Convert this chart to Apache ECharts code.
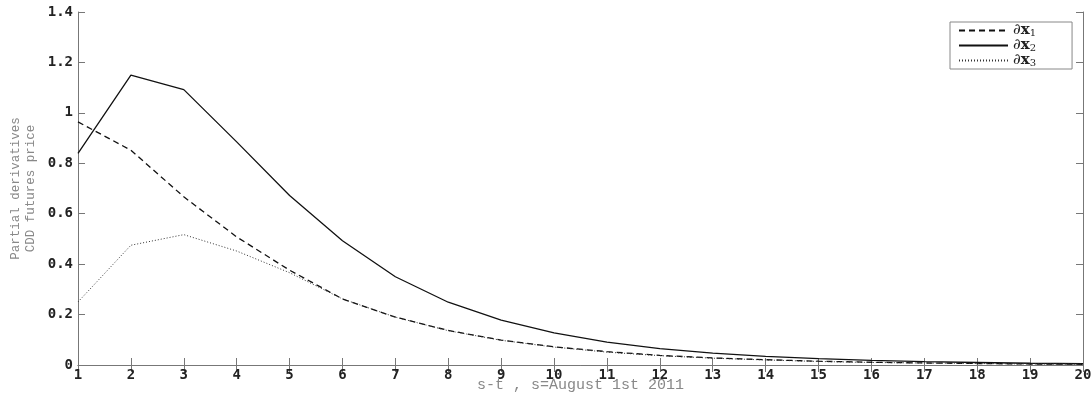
<!DOCTYPE html>
<html>
<head>
<meta charset="utf-8">
<script src="https://cdn.jsdelivr.net/npm/echarts@6/dist/echarts.min.js"></script>
<style>
html,body{margin:0;padding:0;background:#fff;}
#chart{width:1092px;height:396px;}
</style>
</head>
<body>
<div id="chart"></div>
<script>
const steps = [1,2,3,4,5,6,7,8,9,10,11,12,13,14,15,16,17,18,19,20];
const dx1 = [0.964,0.852,0.667,0.508,0.376,0.262,0.19,0.137,0.099,0.072,0.053,0.038,0.028,0.021,0.015,0.011,0.008,0.006,0.004,0.003];
const dx2 = [0.839,1.150,1.092,0.885,0.672,0.493,0.350,0.249,0.178,0.127,0.091,0.065,0.047,0.034,0.025,0.018,0.013,0.010,0.007,0.005];
const dx3 = [0.250,0.475,0.517,0.452,0.366,0.262,0.19,0.136,0.098,0.071,0.051,0.037,0.027,0.020,0.014,0.010,0.008,0.006,0.004,0.003];
const seriesNames = ['∂x1','∂x2','∂x3'];
const yTitle = 'Partial derivatives\nCDD futures price';
const xTitle = 's-t , s=August 1st 2011';

const axisColor = '#777';
const tickFont = {fontFamily:'DejaVu Sans Mono', fontWeight:'bold', fontSize:14, color:'#222'};

function pairs(vals){ return steps.map((s,i)=>[s, vals[i]]); }

const chart = echarts.init(document.getElementById('chart'), null, {renderer:'canvas'});
chart.setOption({
  animation:false,
  backgroundColor:'#fff',
  grid:{left:78, right:9, top:12, bottom:31, containLabel:false, outerBoundsMode:'none'},
  xAxis:[{
    type:'value', min:1, max:20, interval:1,
    axisLine:{show:true, lineStyle:{color:axisColor, width:1}},
    axisTick:{show:true, inside:true, length:7, lineStyle:{color:axisColor}},
    axisLabel:Object.assign({margin:3}, tickFont),
    splitLine:{show:false},
    name:xTitle, nameLocation:'middle', nameGap:13, nameMoveOverlap:false,
    nameTextStyle:{fontFamily:'Liberation Mono', fontSize:15, color:'#888'}
  },{
    type:'value', min:1, max:20, interval:1, position:'top',
    axisLine:{show:true, lineStyle:{color:axisColor, width:1}},
    axisTick:{show:true, inside:true, length:7, lineStyle:{color:axisColor}},
    axisLabel:{show:false}, splitLine:{show:false}
  }],
  yAxis:[{
    type:'value', min:0, max:1.4, interval:0.2,
    axisLine:{show:true, lineStyle:{color:axisColor, width:1}},
    axisTick:{show:true, inside:true, length:7, lineStyle:{color:axisColor}},
    axisLabel:Object.assign({margin:5}, tickFont),
    splitLine:{show:false},
    name:yTitle, nameLocation:'middle', nameGap:40, nameRotate:90, nameMoveOverlap:false,
    nameTextStyle:{fontFamily:'Liberation Mono', fontSize:12.5, lineHeight:15, color:'#888'}
  },{
    type:'value', min:0, max:1.4, interval:0.2, position:'right',
    axisLine:{show:true, lineStyle:{color:axisColor, width:1}},
    axisTick:{show:true, inside:true, length:7, lineStyle:{color:axisColor}},
    axisLabel:{show:false}, splitLine:{show:false}
  }],
  legend:{
    orient:'vertical', left:950, top:22,
    data:seriesNames,
    itemWidth:49, itemHeight:14, itemGap:0,
    padding:[1,36,1,8],
    borderColor:'#888', borderWidth:1, backgroundColor:'#fff',
    itemStyle:{opacity:0},
    formatter:function(name){ return '{p|∂}{b|x}{s|' + name.slice(-1) + '}'; },
    textStyle:{
      rich:{
        p:{fontFamily:'DejaVu Serif', fontSize:15, lineHeight:14, color:'#222'},
        b:{fontFamily:'DejaVu Serif', fontWeight:'bold', fontSize:15, lineHeight:14, color:'#222'},
        s:{fontFamily:'DejaVu Serif', fontSize:10, lineHeight:9, color:'#222', padding:[5,0,0,0]}
      }
    }
  },
  series:[
    {name:seriesNames[0], type:'line', data:pairs(dx1), showSymbol:false, symbol:'none',
     lineStyle:{color:'#111', width:1.3, type:[6,4]}, itemStyle:{color:'#111'}},
    {name:seriesNames[1], type:'line', data:pairs(dx2), showSymbol:false, symbol:'none',
     lineStyle:{color:'#111', width:1.3, type:'solid'}, itemStyle:{color:'#111'}},
    {name:seriesNames[2], type:'line', data:pairs(dx3), showSymbol:false, symbol:'none',
     lineStyle:{color:'#333', width:1, type:[1,2]}, itemStyle:{color:'#333'}}
  ]
});
</script>
</body>
</html>
